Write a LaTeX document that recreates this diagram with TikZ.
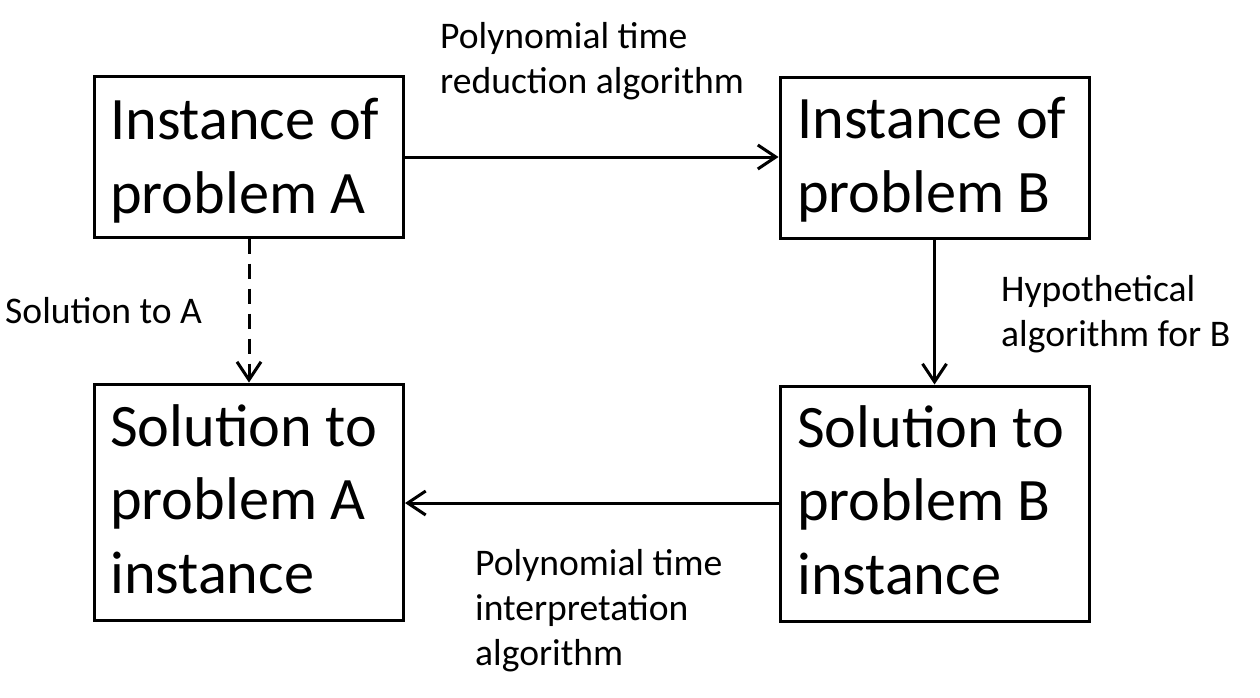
\documentclass[tikz,border=0pt]{standalone}
\usepackage{fontspec}
\setmainfont{Carlito}
\usetikzlibrary{arrows.meta}
\begin{document}
\begin{tikzpicture}[x=1pt,y=-1pt,
  box/.style={draw, line width=3pt, rectangle, minimum width=309pt, inner sep=0pt},
  bigtext/.style={anchor=base west, inner sep=0pt, align=left, font=\fontsize{60.3}{73.5}\selectfont},
  smalltext/.style={anchor=base west, inner sep=0pt, align=left, font=\fontsize{37.6}{45}\selectfont},
  conn/.style={line width=3pt, -{Straight Barb[length=18pt,width=24pt]}},
  dconn/.style={conn, dash pattern=on 15pt off 10pt}
]
\useasboundingbox (0,0) rectangle (1260,697);
% boxes
\node[box, minimum height=161pt] (A) at (249,156.5) {};
\node[box, minimum height=161pt] (B) at (934.5,157.5) {};
\node[box, minimum height=236pt] (SA) at (249,502) {};
\node[box, minimum height=235pt] (SB) at (934.5,503.5) {};
% box texts (anchor at baseline of last line)
\node[bigtext] (tA) at (110,213) {Instance of\\problem A};
\node[bigtext] (tB) at (797,212) {Instance of\\problem B};
\node[bigtext] (tSA) at (110,593) {Solution to\\problem A\\instance};
\node[bigtext] (tSB) at (797,594) {Solution to\\problem B\\instance};
% connectors
\draw[conn] (A.east |- 0,157) -- (B.west |- 0,157);
\draw[conn] (B.south) -- (SB.north);
\draw[conn] (SB.west |- 0,503) -- (SA.east |- 0,503);
\draw[dconn] (A.south) -- (SA.north);
% labels
\node[smalltext] (l1) at (440,93) {Polynomial time\\reduction algorithm};
\node[smalltext] (l2) at (1001,346) {Hypothetical\\algorithm for B};
\node[smalltext] (l3) at (475,665) {Polynomial time\\interpretation\\algorithm};
\node[smalltext] (l4) at (5,323) {Solution to A};
\end{tikzpicture}
\end{document}
